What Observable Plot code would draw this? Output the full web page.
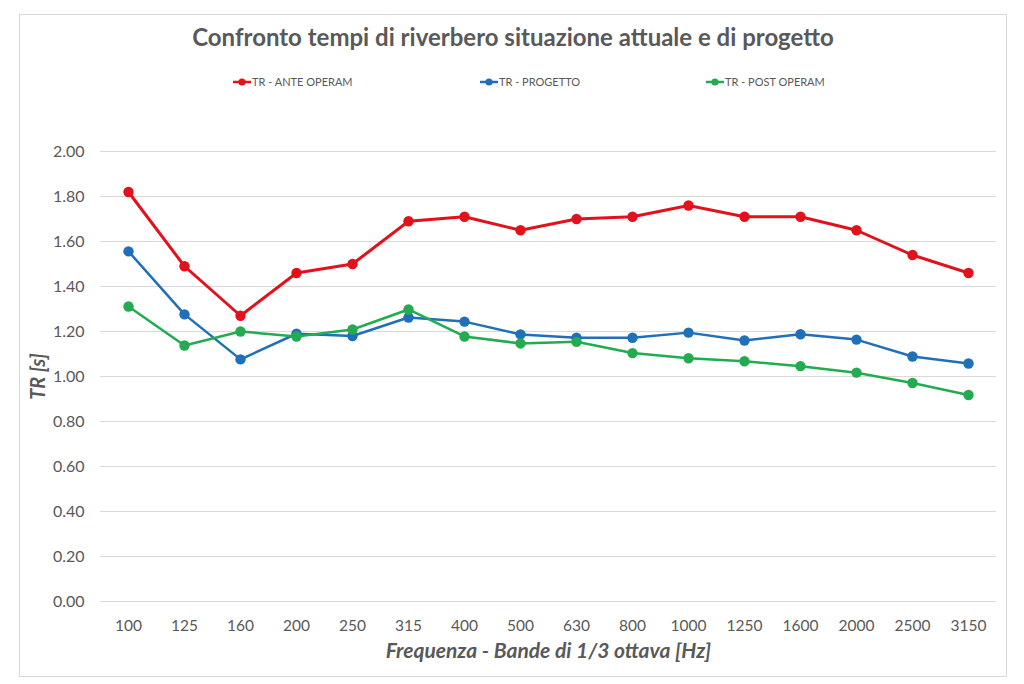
<!DOCTYPE html>
<html>
<head>
<meta charset="utf-8">
<script src="https://cdn.jsdelivr.net/npm/d3@7"></script>
<script src="https://cdn.jsdelivr.net/npm/@observablehq/plot@0.6"></script>
<style>
  body { margin: 0; background: #fff; font-family: Lato, "Open Sans", sans-serif; }
  #wrap { position: relative; width: 1024px; height: 684px; overflow: hidden; }
  #frame { position: absolute; left: 19px; top: 14px; width: 986px; height: 661px; border: 1px solid #d9d9d9; pointer-events: none; }
  #title { height: 60px; line-height: 74px; text-align: center; font-weight: bold; font-size: 24px; color: #595959; padding-left: 2px; }
  #legend { position: relative; height: 40px; font-size: 11px; color: #595959; }
  .item { position: absolute; top: 15px; display: flex; align-items: center; white-space: nowrap; }
  .item svg { margin-right: 1px; }
  #chart svg { display: block; }
</style>
</head>
<body>
<div id="wrap">
  <div id="frame"></div>
  <div id="title">Confronto tempi di riverbero situazione attuale e di progetto</div>
  <div id="legend"></div>
  <div id="chart"></div>
</div>
<script>
const freq = ["100","125","160","200","250","315","400","500","630","800","1000","1250","1600","2000","2500","3150"];
const ante = [1.82,1.49,1.27,1.46,1.50,1.69,1.71,1.65,1.70,1.71,1.76,1.71,1.71,1.65,1.54,1.46];
const progetto = [1.556,1.276,1.076,1.19,1.18,1.262,1.244,1.187,1.172,1.172,1.195,1.16,1.188,1.164,1.089,1.058];
const post = [1.311,1.138,1.20,1.178,1.209,1.298,1.178,1.147,1.154,1.104,1.081,1.068,1.046,1.017,0.971,0.918];
const seriesNames = ["TR - ANTE OPERAM","TR - PROGETTO","TR - POST OPERAM"];
const seriesColors = ["#e3111b","#1f70b8","#22ac4f"];
const yTicks = [0,0.2,0.4,0.6,0.8,1.0,1.2,1.4,1.6,1.8,2.0];

const values = [ante, progetto, post];
const data = [];
values.forEach((arr, s) => arr.forEach((v, i) => data.push({f: freq[i], v, s: seriesNames[s]})));

// legend
const legendPos = [233, 480, 706];
const legend = document.getElementById("legend");
seriesNames.forEach((n, i) => {
  const d = document.createElement("div");
  d.className = "item";
  d.style.left = legendPos[i] + "px";
  d.innerHTML = `<svg width="18" height="10"><line x1="0" y1="5" x2="18" y2="5" stroke="${seriesColors[i]}" stroke-width="2.5"/><circle cx="9" cy="5" r="3.6" fill="${seriesColors[i]}"/></svg><span>${n}</span>`;
  legend.appendChild(d);
});

const chart = Plot.plot({
  width: 1024,
  height: 584,
  marginLeft: 100,
  marginRight: 28,
  marginTop: 51,
  marginBottom: 83,
  style: {fontFamily: "Lato, 'Open Sans', sans-serif", color: "#595959", background: "transparent"},
  x: {type: "point", domain: freq, padding: 0.5, label: null},
  y: {domain: [0, 2], label: null},
  color: {domain: seriesNames, range: seriesColors},
  marks: [
    Plot.gridY(yTicks, {stroke: "#d9d9d9", strokeOpacity: 1, strokeWidth: 1}),
    Plot.axisY(yTicks, {tickSize: 0, tickPadding: 16, fontSize: 16, tickFormat: d => d.toFixed(2), fill: "#595959"}),
    Plot.axisX({tickSize: 0, tickPadding: 18, fontSize: 15.5, fill: "#595959"}),
    Plot.line(data, {x: "f", y: "v", z: "s", stroke: "s", strokeWidth: d => d.s === seriesNames[0] ? 3 : 2.5}),
    Plot.dot(data, {x: "f", y: "v", fill: "s", r: 5.2}),
    Plot.text(["TR [s]"], {frameAnchor: "left", textAnchor: "middle", dx: -62, rotate: -90, fontSize: 20, fontWeight: "bold", fontStyle: "italic", fill: "#595959"}),
    Plot.text(["Frequenza - Bande di 1/3 ottava [Hz]"], {frameAnchor: "bottom", textAnchor: "middle", lineAnchor: "middle", dy: 50, fontSize: 21, fontWeight: "bold", fontStyle: "italic", fill: "#595959"})
  ]
});
document.getElementById("chart").appendChild(chart);
</script>
</body>
</html>
